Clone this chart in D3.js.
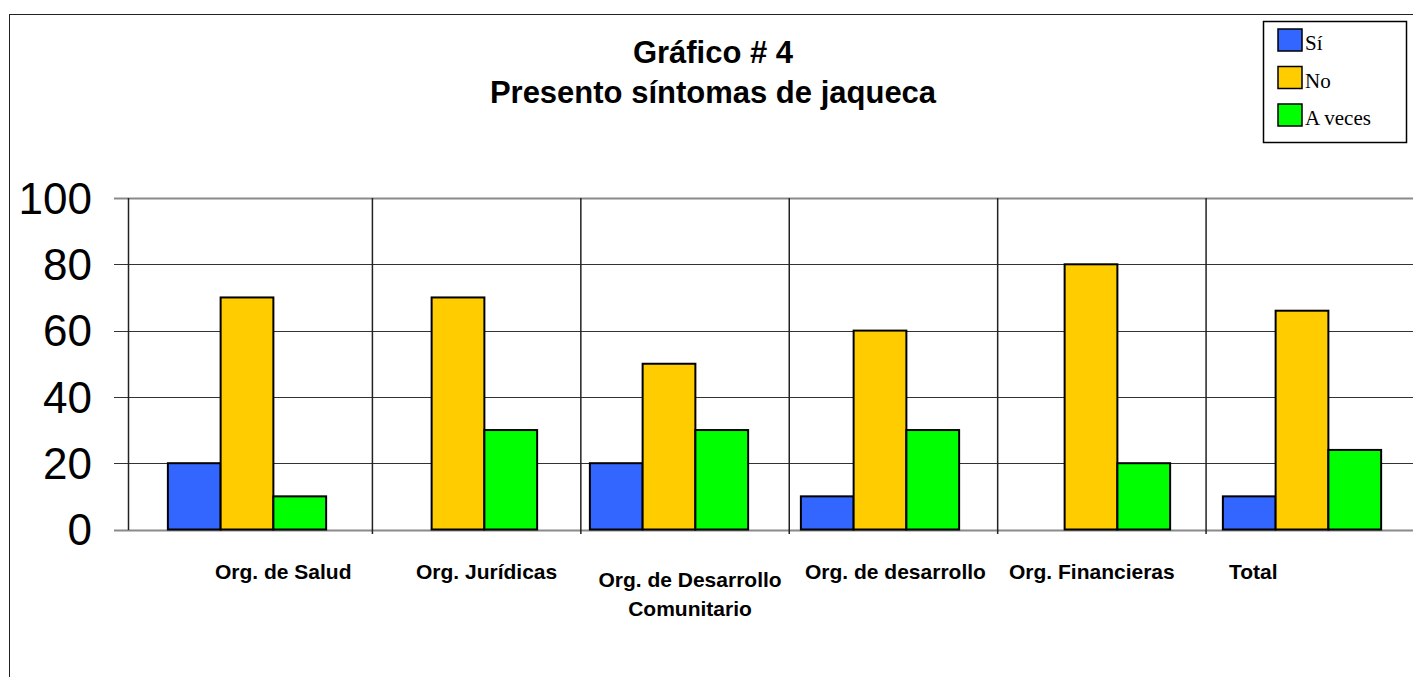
<!DOCTYPE html>
<html>
<head>
<meta charset="utf-8">
<script src="https://cdn.jsdelivr.net/npm/d3@7/dist/d3.min.js"></script>
<style>
  body { margin: 0; background: #fff; }
  text { font-family: "Liberation Sans", Arial, sans-serif; }
</style>
</head>
<body>
<div id="chart"></div>
<script>
        // Data
        const categories = ["Org. de Salud", "Org. Jurídicas", "Org. de Desarrollo Comunitario",
            "Org. de desarrollo", "Org. Financieras", "Total"];
        const seriesNames = ["Sí", "No", "A veces"];
        const si = [20, 0, 20, 10, 0, 10];
        const no = [70, 70, 50, 60, 80, 66];
        const aVeces = [10, 30, 30, 30, 20, 24];
        const yTicks = [0, 20, 40, 60, 80, 100];

        const colors = ["#3366FF", "#FFCC00", "#00FF00"];
        const series = [si, no, aVeces];

        // Chart dimensions
        const width = 1413;
        const height = 677;
        const svg = d3.select("#chart")
            .append("svg")
            .attr("width", width)
            .attr("height", height);

        // outer chart frame
        svg.append("rect")
            .attr("x", 9.5).attr("y", 14.5)
            .attr("width", 1430).attr("height", 700)
            .attr("fill", "none")
            .attr("stroke", "#222")
            .attr("stroke-width", 1);

        const y = d3.scaleLinear().domain([0, 100]).range([529.5, 198]);

        // bar groups
        const x = d3.scaleBand()
            .domain(categories)
            .range([141.5, 1407.5])
            .paddingInner(0.25)
            .paddingOuter(0.125);
        const xs = d3.scaleBand()
            .domain(seriesNames)
            .range([0, x.bandwidth()]);

        // category separators sit on their own grid
        const xGrid = d3.scaleBand()
            .domain(categories)
            .range([164, 1414.5]);

        // horizontal gridlines
        svg.append("g")
            .selectAll("line")
            .data(yTicks)
            .enter()
            .append("line")
            .attr("x1", 114)
            .attr("x2", width)
            .attr("y1", d => Math.round(y(d)) + 0.5)
            .attr("y2", d => Math.round(y(d)) + 0.5)
            .attr("stroke", d => (d === 0 || d === 100) ? "#8a8a8a" : "#333")
            .attr("stroke-width", d => (d === 0 || d === 100) ? 2 : 1);

        // y tick labels
        svg.append("g")
            .selectAll("text")
            .data(yTicks)
            .enter()
            .append("text")
            .attr("x", 92)
            .attr("y", d => y(d))
            .attr("dy", "0.36em")
            .attr("text-anchor", "end")
            .attr("font-size", "44px")
            .text(d => d);

        // y axis line
        svg.append("line")
            .attr("x1", 128.5).attr("x2", 128.5)
            .attr("y1", 198).attr("y2", 530)
            .attr("stroke", "#222")
            .attr("stroke-width", 1.5);

        // vertical separators
        svg.append("g")
            .selectAll("line")
            .data(categories.slice(1))
            .enter()
            .append("line")
            .attr("x1", d => xGrid(d))
            .attr("x2", d => xGrid(d))
            .attr("y1", 198)
            .attr("y2", 534)
            .attr("stroke", "#222")
            .attr("stroke-width", 1.5);

        // bars
        series.forEach((vals, k) => {
            svg.append("g")
                .selectAll("rect")
                .data(categories.map((c, i) => ({ c, v: vals[i] })).filter(d => d.v > 0))
                .enter()
                .append("rect")
                .attr("x", d => x(d.c) + xs(seriesNames[k]))
                .attr("y", d => y(d.v))
                .attr("width", xs.bandwidth())
                .attr("height", d => y(0) - y(d.v))
                .attr("fill", colors[k])
                .attr("stroke", "#000")
                .attr("stroke-width", 2);
        });

        // category labels (Excel placed them a little off-centre)
        const labelShift = [15, 10, 5, 2, -10, -57];
        const catLabels = svg.append("g")
            .selectAll("text")
            .data(categories)
            .enter()
            .append("text")
            .attr("x", (d, i) => xGrid(d) + xGrid.bandwidth() / 2 + labelShift[i])
            .attr("y", 579)
            .attr("text-anchor", "middle")
            .attr("font-size", "21px")
            .attr("font-weight", "bold")
            .text(d => d);

        // wrap long labels onto two lines
        catLabels.each(function(d) {
            const t = d3.select(this);
            if (this.getComputedTextLength() <= 205) return;
            const words = d.split(" ");
            let line1 = [];
            while (words.length) {
                line1.push(words.shift());
                t.text(line1.join(" "));
                if (this.getComputedTextLength() > 205) {
                    words.unshift(line1.pop());
                    break;
                }
            }
            const cx = t.attr("x");
            t.text(null).attr("y", 587);
            t.append("tspan").attr("x", cx).text(line1.join(" "));
            t.append("tspan").attr("x", cx).attr("dy", 29).text(words.join(" "));
        });

        // title
        const title = svg.append("text")
            .attr("x", 713)
            .attr("y", 63)
            .attr("text-anchor", "middle")
            .attr("font-size", "31px")
            .attr("font-weight", "bold");
        title.append("tspan").attr("x", 713).text("Gráfico # 4");
        title.append("tspan").attr("x", 713).attr("dy", 40).text("Presento síntomas de jaqueca");

        // legend
        const legend = svg.append("g");
        legend.append("rect")
            .attr("x", 1263.5).attr("y", 21.5)
            .attr("width", 143).attr("height", 121)
            .attr("fill", "#fff")
            .attr("stroke", "#000")
            .attr("stroke-width", 1.5);
        const items = legend.selectAll("g")
            .data(seriesNames)
            .enter()
            .append("g")
            .attr("transform", (d, i) => `translate(1278, ${29 + i * 37.5})`);
        items.append("rect")
            .attr("width", 24).attr("height", 22)
            .attr("fill", (d, i) => colors[i])
            .attr("stroke", "#000")
            .attr("stroke-width", 1.5);
        items.append("text")
            .attr("x", 27)
            .attr("y", 21)
            .attr("font-size", "21px")
            .style("font-family", "'Liberation Serif', 'Times New Roman', serif")
            .text(d => d);
</script>
</body>
</html>
